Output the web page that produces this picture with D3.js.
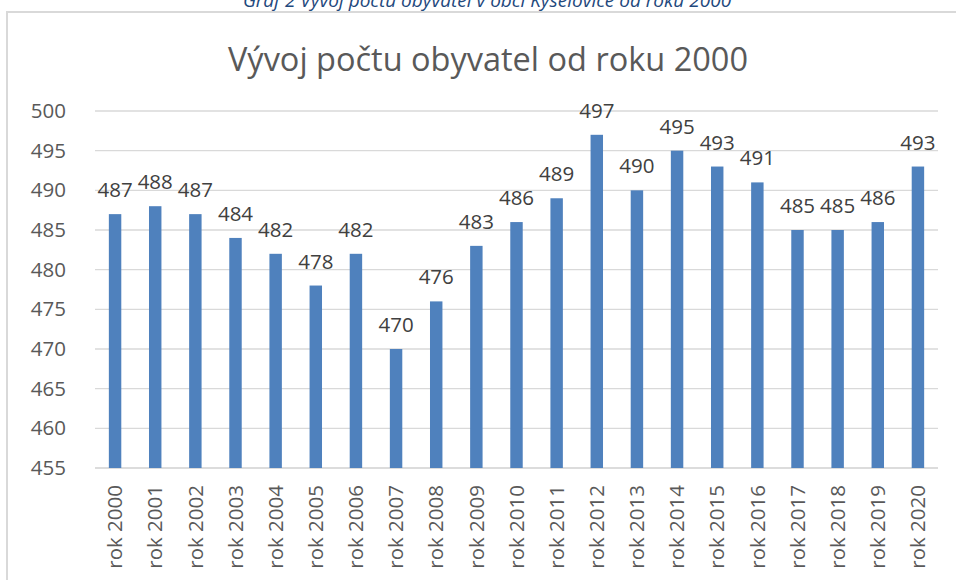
<!DOCTYPE html>
<html>
<head>
<meta charset="utf-8">
<script src="https://cdn.jsdelivr.net/npm/d3@7"></script>
<style>
  body { margin: 0; background: #fff; }
  svg { display: block; font-family: "Open Sans", "Noto Sans", sans-serif; }
</style>
</head>
<body>
<div id="chart"></div>
<script>
const years = ["rok 2000", "rok 2001", "rok 2002", "rok 2003", "rok 2004", "rok 2005", "rok 2006",
  "rok 2007", "rok 2008", "rok 2009", "rok 2010", "rok 2011", "rok 2012", "rok 2013",
  "rok 2014", "rok 2015", "rok 2016", "rok 2017", "rok 2018", "rok 2019", "rok 2020"];
const population = [487, 488, 487, 484, 482, 478, 482, 470, 476, 483, 486, 489, 497, 490,
  495, 493, 491, 485, 485, 486, 493];
const yTicks = [455, 460, 465, 470, 475, 480, 485, 490, 495, 500];

const w = 956, h = 580;
const margin = { left: 95, right: 18, top: 111, bottom: 112 };

const svg = d3.select("#chart").append("svg")
  .attr("width", w)
  .attr("height", h);

// caption above the frame (cut off at the top in the original)
svg.append("text")
  .attr("x", 487)
  .attr("y", 7)
  .attr("text-anchor", "middle")
  .attr("font-style", "italic")
  .attr("font-size", 19)
  .attr("fill", "#1f497d")
  .text("Graf 2 Vývoj počtu obyvatel v obci Kyselovice od roku 2000");

// chart frame
svg.append("rect")
  .attr("x", 7)
  .attr("y", 12)
  .attr("width", 960)
  .attr("height", 600)
  .attr("fill", "none")
  .attr("stroke", "#d9d9d9")
  .attr("stroke-width", 2);

svg.append("text")
  .attr("x", 488)
  .attr("y", 71)
  .attr("text-anchor", "middle")
  .attr("font-size", 32.5)
  .attr("fill", "#595959")
  .text("Vývoj počtu obyvatel od roku 2000");

const x = d3.scaleBand()
  .domain(years)
  .range([margin.left, w - margin.right])
  .paddingInner(0.69)
  .paddingOuter(0.345);

const y = d3.scaleLinear()
  .domain([455, 500])
  .range([h - margin.bottom, margin.top]);

// gridlines
svg.append("g")
  .selectAll("line")
  .data(yTicks)
  .join("line")
  .attr("x1", margin.left)
  .attr("x2", w - margin.right)
  .attr("y1", d => y(d))
  .attr("y2", d => y(d))
  .attr("stroke", d => d === 455 ? "#d0d0d0" : "#d9d9d9")
  .attr("stroke-width", 1.3);

// y axis labels
const yAxis = svg.append("g")
  .attr("transform", `translate(${margin.left - 29},0)`)
  .call(d3.axisLeft(y).tickValues(yTicks).tickSize(0).tickPadding(0));
yAxis.select(".domain").remove();
yAxis.selectAll("text")
  .attr("font-size", 20.5)
  .attr("font-family", "\"Open Sans\", sans-serif")
  .attr("fill", "#595959");

// bars
svg.append("g")
  .selectAll("rect")
  .data(population)
  .join("rect")
  .attr("x", (d, i) => x(years[i]))
  .attr("y", d => y(d))
  .attr("width", x.bandwidth())
  .attr("height", d => y(455) - y(d))
  .attr("fill", "#4f81bd");

// data labels
svg.append("g")
  .selectAll("text")
  .data(population)
  .join("text")
  .attr("x", (d, i) => x(years[i]) + x.bandwidth() / 2)
  .attr("y", d => y(d) - 17)
  .attr("text-anchor", "middle")
  .attr("font-size", 20.5)
  .attr("fill", "#404040")
  .text(d => d);

// x axis labels
const xAxis = svg.append("g")
  .attr("transform", `translate(0,${h - margin.bottom})`)
  .call(d3.axisBottom(x).tickSize(0).tickPadding(0));
xAxis.select(".domain").remove();
xAxis.selectAll("text")
  .attr("font-size", 20.5)
  .attr("font-family", "\"Open Sans\", sans-serif")
  .attr("fill", "#595959")
  .attr("transform", "rotate(-90)")
  .attr("text-anchor", "end")
  .attr("x", -17)
  .attr("y", 0)
  .attr("dy", "0.35em");
</script>
</body>
</html>
